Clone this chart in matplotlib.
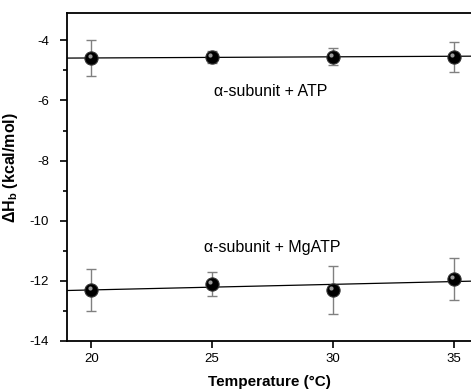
import numpy as np
import matplotlib
matplotlib.use('Agg')
import matplotlib.pyplot as plt
from matplotlib import transforms

plt.rcParams['font.family'] = ['Liberation Sans', 'DejaVu Sans']
plt.rcParams['axes.unicode_minus'] = False
plt.rcParams['mathtext.fontset'] = 'custom'
plt.rcParams['mathtext.rm'] = 'Liberation Sans'
plt.rcParams['mathtext.bf'] = 'Liberation Sans:bold'

temps = [20, 25, 30, 35]
atp_dh = [-4.60, -4.55, -4.54, -4.54]
atp_err = [0.60, 0.20, 0.29, 0.50]
mg_dh = [-12.30, -12.12, -12.30, -11.93]
mg_err = [0.70, 0.40, 0.80, 0.70]

fig = plt.figure(figsize=(4.71, 3.91), dpi=100)
ax = fig.add_axes([0.1423, 0.1279, 0.8577, 0.8381])

xfit = np.array([19.0, 35.7])
for y, e in [(atp_dh, atp_err), (mg_dh, mg_err)]:
    k, b = np.polyfit(temps, y, 1)
    ax.plot(xfit, k * xfit + b, color='black', lw=0.9, zorder=2)
    ax.errorbar(temps, y, yerr=e, fmt='none', ecolor='#808080', elinewidth=1,
                capsize=3.5, capthick=1, zorder=3)
    ax.plot(temps, y, 'o', ms=9.5, mfc='black', mec='#333333', mew=0.8, zorder=4)
    # small highlight for the sphere look
    hl = transforms.offset_copy(ax.transData, fig=fig, x=-1.2, y=1.5, units='points')
    ax.plot(temps, y, 'o', ms=3, mfc='#9a9a9a', mec='none', transform=hl, zorder=5)

ax.text(27.4, -5.69, '\u03b1-subunit + ATP', ha='center', va='center', fontsize=11.5)
ax.text(27.5, -10.88, '\u03b1-subunit + MgATP', ha='center', va='center', fontsize=11.5)

ax.set_xlim(19, 35.7)
ax.set_ylim(-14, -3.1)
ax.set_xticks([20, 25, 30, 35])
ax.set_yticks([-14, -12, -10, -8, -6, -4])
ax.set_yticks([-13, -11, -9, -7, -5], minor=True)
ax.tick_params(direction='out', length=5, width=1.2, labelsize=9.5)
ax.tick_params(axis='y', pad=8)
ax.tick_params(axis='x', pad=4)
ax.tick_params(which='minor', direction='out', length=3, width=1.2)
ax.spines['right'].set_visible(False)
for s in ['left', 'bottom', 'top']:
    ax.spines[s].set_linewidth(1.3)

ax.set_xlabel('Temperature (\u00b0C)', fontsize=11, fontweight='bold', labelpad=7)
ax.set_ylabel(r'$\mathbf{\Delta H_b}$ (kcal/mol)', fontsize=11.5, fontweight='bold')
ax.yaxis.set_label_coords(-0.116, 0.528)

fig.savefig('out.png', dpi=100)
